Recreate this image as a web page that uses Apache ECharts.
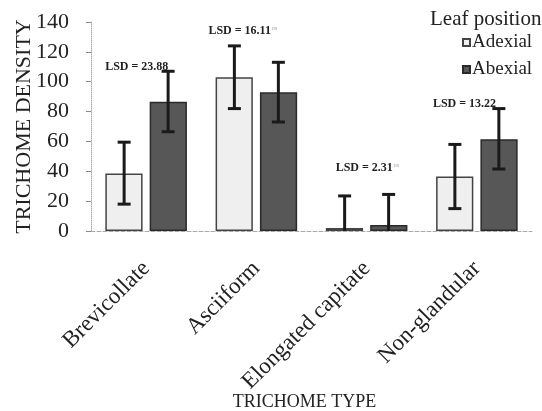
<!DOCTYPE html>
<html><head><meta charset="utf-8">
<script src="https://cdn.jsdelivr.net/npm/echarts@6/dist/echarts.min.js"></script>
<style>html,body{margin:0;padding:0;background:#fff}#c{width:542px;height:411px}</style>
</head><body><div id="c"></div>
<script>
const categories = ['Brevicollate', 'Asciiform', 'Elongated capitate', 'Non-glandular'];
const seriesNames = ['Adexial', 'Abexial'];
const adexial = [38.5, 103, 2, 36.5];
const adexialLow = [18, 82, -20, 15];
const adexialHigh = [59.5, 124, 23.5, 58];
const abexial = [86.5, 93, 4, 61.5];
const abexialLow = [66.5, 73, -16, 41.5];
const abexialHigh = [107, 113, 24.5, 82];
const lsdText = ['LSD = 23.88', 'LSD = 16.11', 'LSD = 2.31', 'LSD = 13.22'];
const lsdNs = [false, true, true, false];
const lsdY = [110, 134, 42, 85];
const yTicks = [0, 20, 40, 60, 80, 100, 120, 140];

const serif = '"Liberation Serif", "DejaVu Serif", serif';
const chart = echarts.init(document.getElementById('c'));

function errSeries(idx, lows, highs) {
  return {
    type: 'custom', name: seriesNames[idx] + ' err', z: 10,
    data: categories.map((c, i) => [i, lows[i], highs[i]]),
    renderItem: function (params, api) {
      const i = api.value(0);
      const bw = api.size([1, 0])[0];
      const barW = bw * 0.335;
      const gap = bw * 0.064;
      const center = api.coord([i, 0])[0];
      const x = center + (idx === 0 ? -(gap / 2 + barW / 2) : (gap / 2 + barW / 2));
      const lo = Math.max(0, api.value(1));
      const pLo = api.coord([i, lo])[1];
      const pHi = api.coord([i, api.value(2)])[1];
      const cap = 6.5;
      const st = { stroke: '#1a1a1a', lineWidth: 3 };
      const ch = [
        { type: 'line', shape: { x1: x, y1: pLo, x2: x, y2: pHi }, style: st },
        { type: 'line', shape: { x1: x - cap, y1: pHi, x2: x + cap, y2: pHi }, style: st }
      ];
      if (api.value(1) >= 0) ch.push({ type: 'line', shape: { x1: x - cap, y1: pLo, x2: x + cap, y2: pLo }, style: st });
      return { type: 'group', children: ch };
    }
  };
}

const lsdDx = [-41, -48, -31, -44];

chart.setOption({
  animation: false,
  grid: { left: 91, right: 10, top: 22, bottom: 180, containLabel: false, outerBoundsMode: 'none' },
  legend: {
    data: seriesNames, orient: 'vertical', left: 457, top: 28, itemGap: 8,
    icon: 'rect', itemWidth: 7, itemHeight: 7,
    textStyle: { fontFamily: serif, fontSize: 19, color: '#222', padding: [0, 0, 0, -3] }
  },
  xAxis: {
    type: 'category', data: categories,
    axisLine: { lineStyle: { color: '#aaa', type: 'dashed', width: 1 } },
    axisTick: { show: false },
    axisLabel: { rotate: 45, fontFamily: serif, fontSize: 23, color: '#222', margin: 34, interval: 0 },
    name: 'TRICHOME TYPE', nameLocation: 'middle', nameGap: 162, nameMoveOverlap: false,
    nameTextStyle: { fontFamily: serif, fontSize: 18, color: '#222', padding: [0, 14, 0, 0] }
  },
  yAxis: {
    type: 'value', min: 0, max: 140, interval: 20,
    axisLine: { show: true, lineStyle: { color: '#aaa', type: 'dotted' } },
    axisTick: { show: true, length: 5, lineStyle: { color: '#888' } },
    splitLine: { show: false },
    axisLabel: { fontFamily: serif, fontSize: 22, color: '#222', margin: 22,
      formatter: v => yTicks.includes(v) ? String(v) : '' },
    name: 'TRICHOME DENSITY', nameLocation: 'middle', nameGap: 56, nameMoveOverlap: false,
    nameTextStyle: { fontFamily: serif, fontSize: 22, color: '#222' }
  },
  series: [
    { type: 'bar', name: seriesNames[0], data: adexial, barCategoryGap: '26%', barGap: '19%',
      itemStyle: { color: '#efefef', borderColor: '#444', borderWidth: 1.5 } },
    { type: 'bar', name: seriesNames[1], data: abexial,
      itemStyle: { color: '#575757', borderColor: '#2a2a2a', borderWidth: 1.5 } },
    errSeries(0, adexialLow, adexialHigh),
    errSeries(1, abexialLow, abexialHigh),
    {
      type: 'custom', name: 'lsd', z: 12,
      data: categories.map((c, i) => [i, lsdY[i]]),
      renderItem: function (params, api) {
        const i = api.value(0);
        const p = api.coord([i, api.value(1)]);
        const txt = '{a|' + lsdText[i] + '}' + (lsdNs[i] ? '{s|ns}' : '');
        return { type: 'text', x: p[0] + lsdDx[i], y: p[1],
          style: { text: txt, textVerticalAlign: 'middle', verticalAlign: 'middle',
            rich: { a: { fontFamily: serif, fontSize: 12, fontWeight: 'bold', fill: '#222', color: '#222' },
                    s: { fontFamily: serif, fontSize: 6, fill: '#aaa', color: '#aaa', verticalAlign: 'top', padding: [0, 0, 6, 1] } } } };
      }
    }
  ],
  graphic: [
    { type: 'text', left: 430, top: 9, style: { text: 'Leaf position', fontFamily: serif, fontSize: 21, fill: '#222' } }
  ]
});
</script></body></html>
